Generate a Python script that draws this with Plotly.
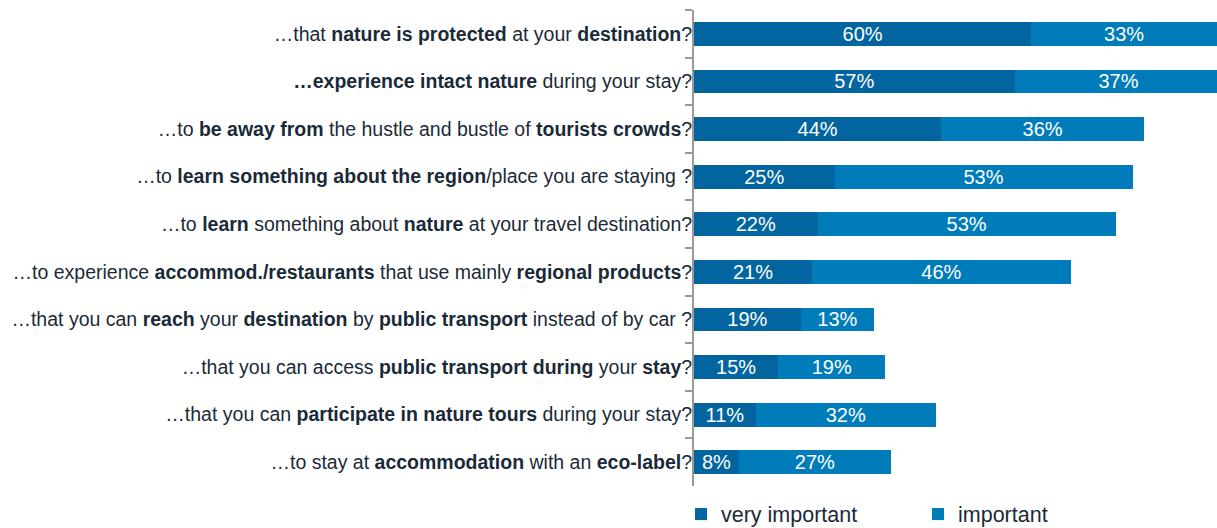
import plotly.graph_objects as go

categories = [
    "…that <b>nature is protected</b> at your <b>destination</b>?",
    "<b>…experience intact nature</b> during your stay?",
    "…to <b>be away from</b> the hustle and bustle of <b>tourists crowds</b>?",
    "…to <b>learn something about the region</b>/place you are staying ?",
    "…to <b>learn</b> something about <b>nature</b> at your travel destination?",
    "…to experience <b>accommod./restaurants</b> that use mainly <b>regional products</b>?",
    "…that you can <b>reach</b> your <b>destination</b> by <b>public transport</b> instead of by car ?",
    "…that you can access <b>public transport during</b> your <b>stay</b>?",
    "…that you can <b>participate in nature tours</b> during your stay?",
    "…to stay at <b>accommodation</b> with an <b>eco-label</b>?",
]
very_important = [60, 57, 44, 25, 22, 21, 19, 15, 11, 8]
important = [33, 37, 36, 53, 53, 46, 13, 19, 32, 27]

dark = "#03659F"
light = "#017CBA"
text_col = "#1B2A38"
font_family = "Liberation Sans, Arial, sans-serif"

fig = go.Figure()
for name, vals, col in [("very important", very_important, dark),
                        ("important", important, light)]:
    fig.add_trace(go.Bar(
        y=categories, x=vals, name=name, orientation="h",
        marker=dict(color=col, line=dict(width=0)),
        text=[f"{v}%" for v in vals], textposition="inside",
        insidetextanchor="middle", constraintext="none",
        textfont=dict(color="white", size=20, family=font_family),
    ))

fig.update_layout(
    barmode="stack", bargap=0.5,
    width=1217, height=528,
    margin=dict(l=694, r=0, t=10, b=42, autoexpand=False),
    plot_bgcolor="white", paper_bgcolor="white",
    font=dict(family=font_family, color=text_col, size=19),
    legend=dict(orientation="h", traceorder="normal",
                xref="container", x=681 / 1217, xanchor="left",
                yref="paper", y=-0.016, yanchor="top",
                font=dict(size=21.5, color=text_col), itemwidth=30,
                entrywidth=192, entrywidthmode="pixels"),
    uniformtext=dict(mode=False),
)
fig.update_xaxes(range=[0, 93], visible=False, fixedrange=True)
fig.update_yaxes(autorange="reversed", showline=True, linecolor="#9A9A9A", linewidth=2,
                 ticks="outside", tickson="boundaries", ticklen=7, tickcolor="#9A9A9A",
                 tickwidth=2, showgrid=False, ticklabelstandoff=-4, automargin=False,
                 tickfont=dict(size=19.5, color=text_col))

fig.write_html("out.html", config={"displayModeBar": False},
               post_script="document.body.style.margin='0';document.body.style.overflow='hidden';")
